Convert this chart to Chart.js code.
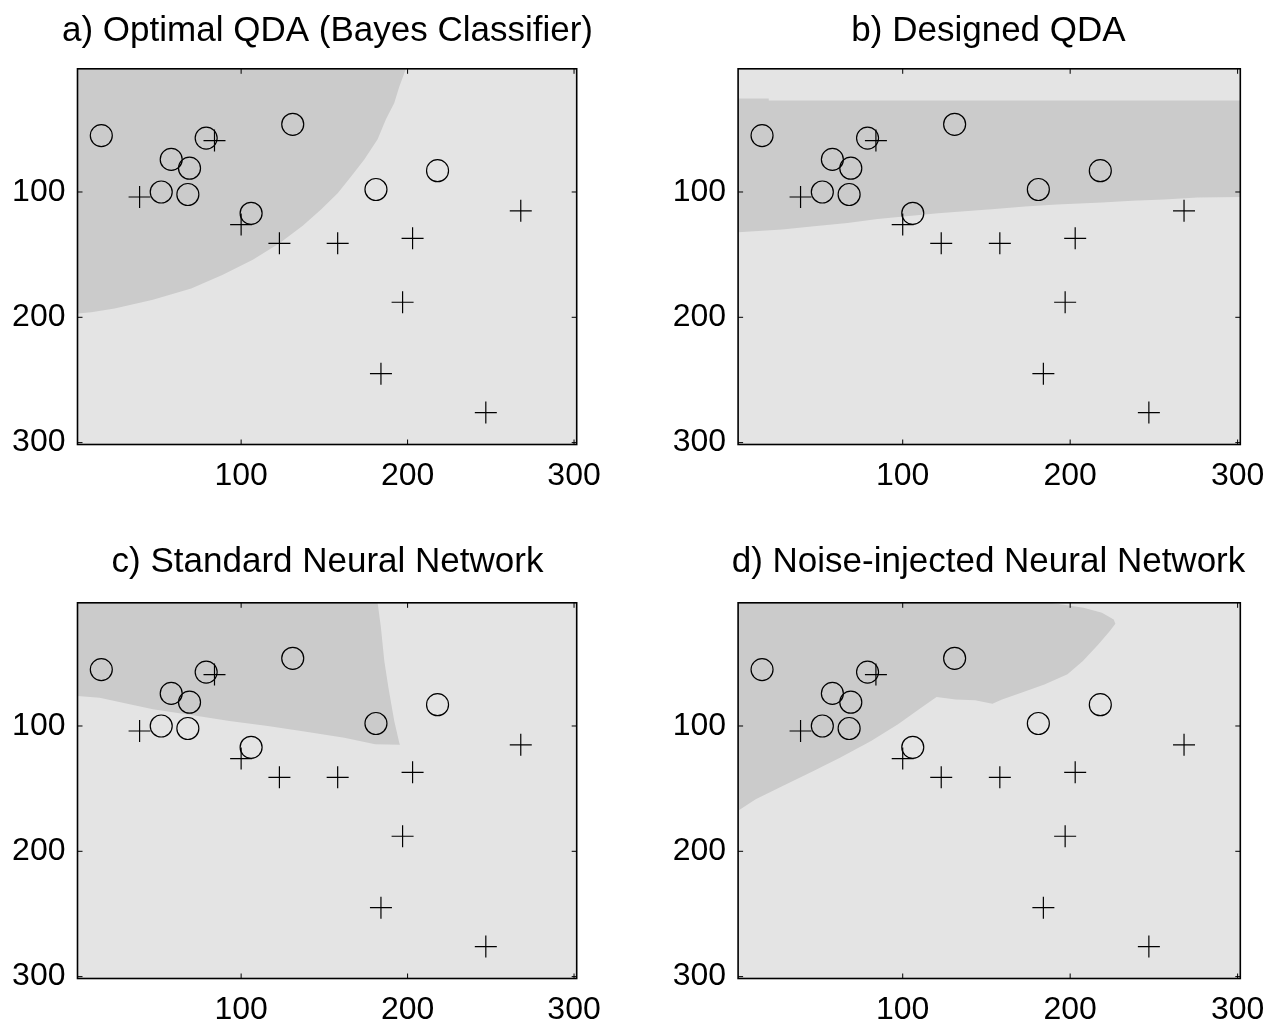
<!DOCTYPE html>
<html>
<head>
<meta charset="UTF-8">
<title>QDA and Neural Network decision regions</title>
<script src="https://cdn.jsdelivr.net/npm/chart.js@4"></script>
<style>
    html, body { margin: 0; padding: 0; background: #fff; overflow: hidden; }
    body { width: 1269px; height: 1021px; position: relative; }
    canvas { position: absolute; }
</style>
</head>
<body>
<canvas id="chartA" width="655" height="495" style="left:0px;top:0px"></canvas>
<canvas id="chartB" width="655" height="495" style="left:661px;top:0px"></canvas>
<canvas id="chartC" width="655" height="495" style="left:0px;top:534px"></canvas>
<canvas id="chartD" width="655" height="495" style="left:661px;top:534px"></canvas>

<script>
    // axis limits (image pixel coordinates, y grows downwards)
    const xMin = 1.7, xMax = 301.6, yMin = 1.7, yMax = 301.5;
    const tickValues = [100, 200, 300];

    // training samples, same in every panel
    const circleX = [16, 79, 131, 58, 69, 52, 68, 106, 181, 218];
    const circleY = [55, 57, 46, 74, 81, 100, 102, 117, 98, 83];
    const crossX = [84, 39, 100, 123, 158, 203, 268, 197, 184, 247];
    const crossY = [59, 104, 126, 141, 141, 137, 115, 188, 245, 276];

    // decision region of the "circle" class, one outline per panel
    const regionAX = [xMin, 199, 195, 192, 187, 182, 174, 167, 158, 148, 137, 123, 107, 89, 70, 47, 24, 10, xMin];
    const regionAY = [yMin, yMin, 16, 29, 42, 58, 74, 86, 101, 114, 127, 141, 154, 166, 177, 186, 193, 196, 197];

    const regionBX = [xMin, 20, 20, xMax, xMax, 276, 256, 237, 219, 192, 173, 155, 137, 121, 102, 85, 67, 47, 28, xMin];
    const regionBY = [25.4, 25.4, 27, 27, 104, 104.3, 106, 107, 108.3, 110, 111.5, 113.6, 115.4, 117, 119.4, 121.6, 124.8, 127.4, 130, 132.2];

    const regionCX = [xMin, 182, 184, 186, 188.5, 192, 195, 195.4, 180.5, 162, 139, 116, 93, 70, 47, 24, 15, xMin];
    const regionCY = [yMin, yMin, 21.6, 48, 69.5, 96, 113.3, 115, 114.6, 109.3, 104.5, 100, 96, 91.2, 86.7, 80.1, 77.4, 76.1];

    const regionDX = [xMin, 188, 208, 219, 226, 227, 223.7, 216.8, 207.6, 198.4, 184.6, 170.8, 159.3, 153.6, 143.2, 131.7, 120.2, 111, 97.2, 81.1, 62.8, 46.7, 28.3, 12.2, xMin];
    const regionDY = [yMin, yMin, 5.7, 9.7, 15, 18.5, 24.3, 34.9, 48.2, 58.8, 66.8, 73.4, 78.8, 82.2, 79.5, 78.8, 76.9, 85.4, 98.7, 112, 125.2, 135.9, 147.8, 158.4, 167.7];

    const titles = [
        'a) Optimal QDA (Bayes Classifier)',
        'b) Designed QDA',
        'c) Standard Neural Network',
        'd) Noise-injected Neural Network'
    ];

    const lightGray = '#e4e4e4';
    const darkGray = '#cbcbcb';

    Chart.defaults.font.family = '"Liberation Sans", Arial, sans-serif';
    Chart.defaults.color = '#000';

    const toPoints = (xs, ys) => xs.map((x, i) => ({ x: x, y: ys[i] }));

    // light background, black frame and small inward ticks on all sides
    const framePlugin = {
        id: 'frame',
        beforeDraw(chart) {
            const { ctx, chartArea: a } = chart;
            ctx.save();
            ctx.fillStyle = lightGray;
            ctx.fillRect(a.left, a.top, a.right - a.left, a.bottom - a.top);
            ctx.restore();
        },
        afterDatasetsDraw(chart) {
            const { ctx, chartArea: a, scales } = chart;
            ctx.save();
            ctx.strokeStyle = '#000';
            ctx.lineWidth = 1;
            ctx.beginPath();
            tickValues.forEach(v => {
                const px = scales.x.getPixelForValue(v);
                const py = scales.y.getPixelForValue(v);
                ctx.moveTo(px, a.top); ctx.lineTo(px, a.top + 5);
                ctx.moveTo(px, a.bottom); ctx.lineTo(px, a.bottom - 5);
                ctx.moveTo(a.left, py); ctx.lineTo(a.left + 5, py);
                ctx.moveTo(a.right, py); ctx.lineTo(a.right - 5, py);
            });
            ctx.stroke();
            ctx.lineWidth = 1.6;
            ctx.strokeRect(a.left, a.top, a.right - a.left, a.bottom - a.top);
            ctx.restore();
        }
    };

    function makeChart(canvasId, title, regionX, regionY, yAxisWidth, plotWidth, titleTop) {
        const ctx = document.getElementById(canvasId).getContext('2d');
        const canvasWidth = 655, canvasHeight = 495, plotTop = 68.8, plotBottom = 444.5;
        const titleSize = 35;
        return new Chart(ctx, {
            type: 'scatter',
            data: {
                datasets: [
                    {
                        type: 'line',
                        order: 5,
                        data: toPoints(regionX, regionY),
                        fill: 'shape',
                        backgroundColor: darkGray,
                        borderWidth: 0,
                        pointRadius: 0,
                        tension: 0
                    },
                    {
                        order: 1,
                        data: toPoints(circleX, circleY),
                        pointStyle: 'circle',
                        pointRadius: 11,
                        backgroundColor: 'rgba(0,0,0,0)',
                        borderColor: '#000',
                        borderWidth: 1.2
                    },
                    {
                        order: 0,
                        data: toPoints(crossX, crossY),
                        pointStyle: 'cross',
                        pointRadius: 11,
                        borderColor: '#000',
                        borderWidth: 1.2
                    }
                ]
            },
            options: {
                responsive: false,
                animation: false,
                events: [],
                layout: { padding: 0 },
                plugins: {
                    legend: { display: false },
                    tooltip: { enabled: false },
                    filler: { drawTime: 'beforeDatasetsDraw' },
                    title: {
                        display: true,
                        text: title,
                        color: '#000',
                        font: { size: titleSize, weight: 'normal', lineHeight: 1.2 },
                        padding: { top: titleTop, bottom: plotTop - titleTop - titleSize * 1.2 }
                    }
                },
                scales: {
                    x: {
                        type: 'linear',
                        min: xMin,
                        max: xMax,
                        grid: { display: false, drawTicks: false },
                        border: { display: false },
                        ticks: { font: { size: 32 }, padding: 12, color: '#000' },
                        afterBuildTicks: s => { s.ticks = tickValues.map(v => ({ value: v })); },
                        afterFit: s => { s.height = canvasHeight - plotBottom; }
                    },
                    y: {
                        type: 'linear',
                        reverse: true,
                        min: yMin,
                        max: yMax,
                        grid: { display: false, drawTicks: false },
                        border: { display: false },
                        ticks: { font: { size: 32 }, padding: 12, color: '#000' },
                        afterBuildTicks: s => { s.ticks = tickValues.map(v => ({ value: v })); },
                        afterFit: s => { s.width = yAxisWidth; }
                    },
                    // empty right margin so the title stays centred over the plot
                    yPad: {
                        type: 'linear',
                        position: 'right',
                        grid: { display: false, drawTicks: false },
                        border: { display: false },
                        ticks: { display: false },
                        afterFit: s => { s.width = canvasWidth - yAxisWidth - plotWidth; }
                    }
                }
            },
            plugins: [framePlugin]
        });
    }

    makeChart('chartA', titles[0], regionAX, regionAY, 77.5, 499.2, 10);
    makeChart('chartB', titles[1], regionBX, regionBY, 77.1, 502.2, 10);
    makeChart('chartC', titles[2], regionCX, regionCY, 77.5, 499.2, 7.3);
    makeChart('chartD', titles[3], regionDX, regionDY, 77.1, 502.2, 7.3);
</script>
</body>
</html>
